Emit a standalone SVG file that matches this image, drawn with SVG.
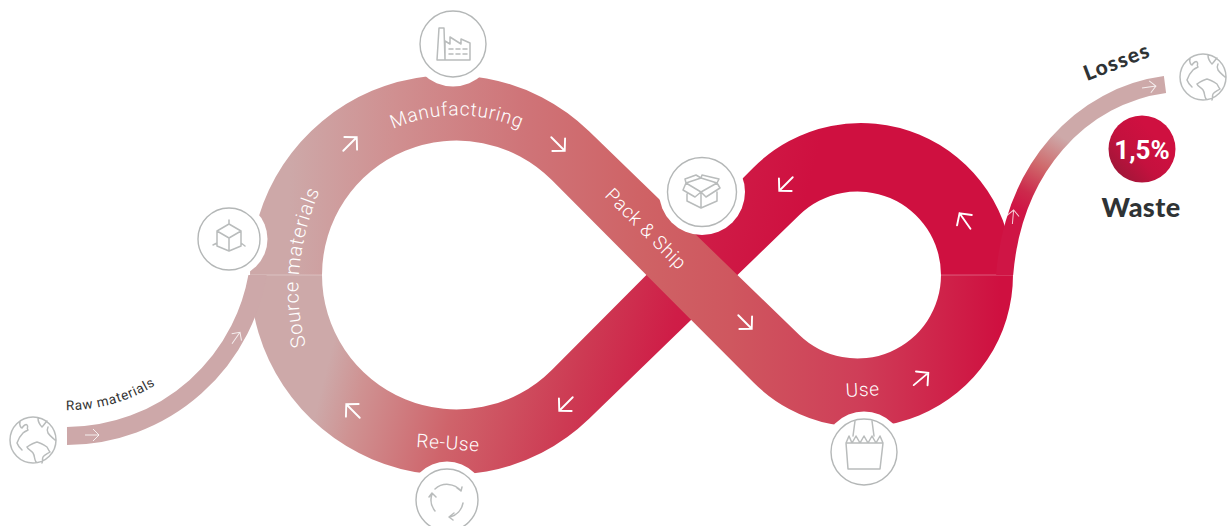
<svg xmlns="http://www.w3.org/2000/svg" width="1228" height="526" viewBox="0 0 1228 526">
<style>
.ic{fill:none;stroke:#b9bcbc;stroke-width:1.5;stroke-linejoin:round;stroke-linecap:round}
.ring{fill:#fff;stroke:#b4b7b7;stroke-width:1.4}
.halo{fill:#fff}
.arw{fill:none;stroke:#fff;stroke-width:1.900;stroke-linecap:round;stroke-linejoin:miter}
.arwS{fill:none;stroke:#fff;stroke-width:1;opacity:.8}
.lbl{font-family:"Roboto","Liberation Sans",sans-serif;font-weight:300;fill:#fff;font-size:19px;letter-spacing:.7px}
.seam{stroke:#fff;stroke-opacity:.3;stroke-width:1}
</style>
<defs>
<linearGradient id="gA" gradientUnits="userSpaceOnUse" x1="290" y1="275" x2="1000" y2="275">
<stop offset="0" stop-color="#cda8a8"/><stop offset=".15" stop-color="#d08f90"/><stop offset=".33" stop-color="#cf7478"/><stop offset=".5" stop-color="#cf6265"/><stop offset=".62" stop-color="#cf575f"/><stop offset=".8" stop-color="#cf3e58"/><stop offset="1" stop-color="#cf1040"/>
</linearGradient>
<linearGradient id="gB" gradientUnits="userSpaceOnUse" x1="325" y1="375" x2="735" y2="479">
<stop offset="0" stop-color="#cda9a9"/><stop offset=".09" stop-color="#cf9292"/><stop offset=".31" stop-color="#cf646b"/><stop offset=".58" stop-color="#cd3a53"/><stop offset=".77" stop-color="#cf1d47"/><stop offset="1" stop-color="#cf1040"/>
</linearGradient>
<linearGradient id="gL" gradientUnits="userSpaceOnUse" x1="1018" y1="208" x2="1058" y2="135">
<stop offset="0" stop-color="#cf1545"/><stop offset=".22" stop-color="#cc2a4c"/><stop offset=".58" stop-color="#cf6a6c"/><stop offset="1" stop-color="#cda9a9"/>
</linearGradient>
<linearGradient id="gP" gradientUnits="userSpaceOnUse" x1="1115" y1="172" x2="1155" y2="135">
<stop offset="0" stop-color="#a01638"/><stop offset=".5" stop-color="#c4113e"/><stop offset="1" stop-color="#cf1040"/>
</linearGradient>
<clipPath id="belowSeam"><rect x="0" y="275" width="400" height="251"/></clipPath>
<clipPath id="aboveSeam"><rect x="990" y="0" width="238" height="275"/></clipPath>
<path id="arw" class="arw" d="M-9.500 0H9.500M1-9L9.500 0L1 9"/>
<path id="arwS" class="arwS" d="M-7 0H7M1-6L7 0L1 6"/>
<path id="tSource" d="M306 346Q285 270 322 185"/>
<path id="tManuf" d="M330 180A158 158 0 0 1 585 180"/>
<path id="tRaw" d="M60 410A168 168 0 0 0 200 345"/>
<path id="globe" class="ic" d="M-23 0A23 23 0 1 0 23 0A23 23 0 1 0 -23 0M-13-18C-14-15-12-12-11-12C-9-15-7-16-6-15C-4-13-7-12-5-10C-7-9-9-8-10-7C-13-4-15 0-16 3C-15 6-13 8-11 10M-6 7C-3 5 0 3 4 2C8 3 11 5 14 7C15 9 16 11 17 12C14 14 11 15 10 17C9 19 10 21 9 23M-6 7C-5 10-1 11 0 13C2 16 1 19 3 22M5-22C5-18 7-15 9-13C11-15 12-17 14-19M15-13C14-11 14-9 15-7C17-4 20-2 22 0"/>
</defs>

<g id="connectors">
<path id="band-return-reuse" fill="url(#gB)" d="M1013 275A152 152 0 0 0 753.300 167.700L551.800 369.900A134.500 134.500 0 0 1 322 275L250 275A200 200 0 0 0 589.100 418.700L799.400 215A83.500 83.500 0 0 1 941 275Z"/>
<path id="band-forward" fill="url(#gA)" d="M250 275A200 200 0 0 1 589.100 131.300L799.400 335A83.500 83.500 0 0 0 941 275L1013 275A152 152 0 0 1 753.300 382.300L551.800 180.100A134.500 134.500 0 0 0 322 275Z"/>
<line class="seam" x1="250" y1="275" x2="322" y2="275"/>
<line class="seam" x1="941" y1="275" x2="1013" y2="275"/>
<path id="branch-raw" clip-path="url(#belowSeam)" fill="none" stroke="#cda8a9" stroke-width="18" d="M67 436A194 194 0 0 0 259 265"/>
<path id="branch-losses" clip-path="url(#aboveSeam)" fill="none" stroke="url(#gL)" stroke-width="17" d="M1165 84.500C1085 95 1010 165 1004 285"/>
<use href="#arw" transform="translate(350 144) rotate(-45)"/>
<use href="#arw" transform="translate(558 144) rotate(45)"/>
<use href="#arw" transform="translate(745 322) rotate(45)"/>
<use href="#arw" transform="translate(921 379) rotate(-40)"/>
<use href="#arw" transform="translate(965 221) rotate(-125)"/>
<use href="#arw" transform="translate(786 184) rotate(135)"/>
<use href="#arw" transform="translate(566 404) rotate(135)"/>
<use href="#arw" transform="translate(353 411) rotate(-135)"/>
<use href="#arwS" transform="translate(92 435)"/>
<use href="#arwS" transform="translate(236 338) rotate(-55)"/>
<use href="#arwS" transform="translate(1013 217) rotate(-85)"/>
<use href="#arwS" transform="translate(1149 87) rotate(-8)"/>
</g>

<g id="labels">
<text class="lbl" style="font-size:20px"><textPath href="#tSource" startOffset="0">Source materials</textPath></text>
<text class="lbl"><textPath href="#tManuf" startOffset="82">Manufacturing</textPath></text>
<text class="lbl" transform="translate(604 196) rotate(45)">Pack &amp; Ship</text>
<text class="lbl" transform="translate(416 447) rotate(4)">Re-Use</text>
<text class="lbl" transform="translate(846 397) rotate(-3)">Use</text>
<text font-family="Roboto,'Liberation Sans',sans-serif" font-size="13.500" font-weight="400" letter-spacing=".7" fill="#333"><textPath href="#tRaw" startOffset="6">Raw materials</textPath></text>
<text font-family="Lato,'Liberation Sans',sans-serif" font-size="21" font-weight="900" letter-spacing="1.300" fill="#2f3335" transform="translate(1087 81) rotate(-21)">Losses</text>
</g>

<g id="node-source"><circle class="halo" cx="229" cy="239" r="38.500"/><circle class="ring" cx="229" cy="239" r="31"/>
<path class="ic" d="M229 224L241 231V246L229 251L217 246V231ZM217 231L229 238L241 231M229 238V251M229 220V224M213 245L217 243M245 246L241 243"/></g>
<g id="node-manufacturing"><circle class="halo" cx="453" cy="44" r="42.500"/><circle class="ring" cx="453" cy="44" r="33"/>
<path class="ic" d="M437 60L439 28H444L445 60ZM445 60H470V43L461 39V44L450 37V44L445 41ZM449 49H453M456 49H460M463 49H467M449 54H453M456 54H460M463 54H467"/></g>
<g id="node-pack"><circle class="halo" cx="702" cy="192" r="43"/><circle class="ring" cx="702" cy="192" r="34.500"/>
<path class="ic" d="M687 194V201L701 208L717 201V192M701 208V192M686 183L701 192L717 183L701 178ZM686 183L683 190L695 197L701 192M717 183L720 188L706 197L701 192M686 183L685 179L696 175L701 178M701 178L702 175L719 179L717 183"/></g>
<g id="node-reuse"><circle class="halo" cx="447" cy="500" r="38.500"/><circle class="ring" cx="447" cy="500" r="31"/>
<path class="ic" d="M435 489A18 18 0 0 1 461 491M457 488L461 491L462 487M463 503A18 18 0 0 1 450 517M454 513L449 517L453 520M435 511A18 18 0 0 1 432 494M429 497L432 493L436 497"/></g>
<g id="node-use"><circle class="halo" cx="864" cy="452" r="40.500"/><circle class="ring" cx="864" cy="452" r="33"/>
<path class="ic" d="M846 443L848 469H880L883 443ZM846 443L849 436L852 443L856 436L860 443L864 436L868 443L872 436L876 443L880 436L883 443M855 421L853 436M872 421L874 436"/></g>
<g id="node-raw"><use href="#globe" transform="translate(33 440)"/></g>
<g id="node-losses"><use href="#globe" transform="translate(1203 77)"/></g>
<g id="node-waste"><circle cx="1142" cy="149" r="33.500" fill="url(#gP)"/>
<text x="1142" y="159" text-anchor="middle" font-family="Roboto,'Liberation Sans',sans-serif" font-size="26" font-weight="700" fill="#fff">1,5%</text>
<text x="1141" y="217" text-anchor="middle" font-family="Lato,'Liberation Sans',sans-serif" font-size="27" font-weight="900" letter-spacing=".4" fill="#2f3335">Waste</text></g>
</svg>
